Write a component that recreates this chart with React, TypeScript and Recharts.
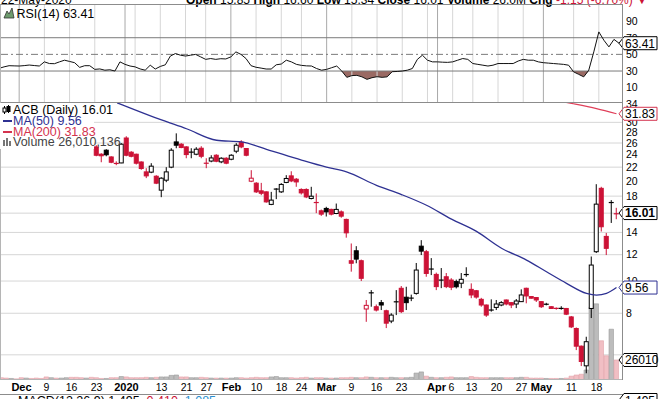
import React from "react";
import { ComposedChart, Bar, Line, Area, XAxis, YAxis, ReferenceLine, Cell } from "recharts";

// ACB daily, 25 Nov 2019 – 22 May 2020
const dates = [
  "Nov 25", "Nov 26", "Nov 27", "Nov 29", "Dec 2", "Dec 3", "Dec 4", "Dec 5", "Dec 6", "Dec 9",
  "Dec 10", "Dec 11", "Dec 12", "Dec 13", "Dec 16", "Dec 17", "Dec 18", "Dec 19", "Dec 20", "Dec 23",
  "Dec 24", "Dec 26", "Dec 27", "Dec 30", "Dec 31", "Jan 2", "Jan 3", "Jan 6", "Jan 7", "Jan 8",
  "Jan 9", "Jan 10", "Jan 13", "Jan 14", "Jan 15", "Jan 16", "Jan 17", "Jan 21", "Jan 22", "Jan 23",
  "Jan 24", "Jan 27", "Jan 28", "Jan 29", "Jan 30", "Jan 31", "Feb 3", "Feb 4", "Feb 5", "Feb 6",
  "Feb 7", "Feb 10", "Feb 11", "Feb 12", "Feb 13", "Feb 14", "Feb 18", "Feb 19", "Feb 20", "Feb 21",
  "Feb 24", "Feb 25", "Feb 26", "Feb 27", "Feb 28", "Mar 2", "Mar 3", "Mar 4", "Mar 5", "Mar 6",
  "Mar 9", "Mar 10", "Mar 11", "Mar 12", "Mar 13", "Mar 16", "Mar 17", "Mar 18", "Mar 19", "Mar 20",
  "Mar 23", "Mar 24", "Mar 25", "Mar 26", "Mar 27", "Mar 30", "Mar 31", "Apr 1", "Apr 2", "Apr 3",
  "Apr 6", "Apr 7", "Apr 8", "Apr 9", "Apr 13", "Apr 14", "Apr 15", "Apr 16", "Apr 17", "Apr 20",
  "Apr 21", "Apr 22", "Apr 23", "Apr 24", "Apr 27", "Apr 28", "Apr 29", "Apr 30", "May 1", "May 4",
  "May 5", "May 6", "May 7", "May 8", "May 11", "May 12", "May 13", "May 14", "May 15", "May 18",
  "May 19", "May 20", "May 21", "May 22",
];

const opens = [
  31.0, 30.3, 30.0, 30.2, 29.7, 28.9, 29.6, 29.6, 29.4, 29.0, 28.5, 29.9, 29.3, 30.3, 30.6, 29.2, 28.2, 27.6, 27.8,
  25.31, 24.06, 24.74, 23.61, 22.46, 22.65, 26.92, 24.4, 24.06, 22.8, 21.29, 21.25, 20.66, 18.76, 20.1,
  22.0, 26.2, 25.79, 25.31, 24.48, 24.06, 25.08, 22.68, 22.95, 23.89, 22.82, 23.4, 23.24, 24.57, 26.16,
  25.03, 19.96, 19.69, 18.67, 18.54, 17.0, 18.95, 18.54, 19.79, 20.71, 20.24, 18.85, 18.85, 17.71, 17.28,
  16.26, 16.53, 16.42, 15.96, 16.14, 15.32, 11.51, 12.33, 11.51, 8.24, 9.2, 8.37, 8.61, 8.14, 7.58,
  8.68, 9.51, 8.94, 8.9, 9.18, 12.73, 12.25, 10.9, 10.47, 10.1, 10.3, 10.07, 9.96, 9.85, 10.44,
  9.44, 9.35, 8.81, 8.47, 8.16, 8.33, 8.47, 8.77, 8.61, 8.53, 8.67, 9.51, 8.98, 8.92, 8.67,
  8.53, 8.37, 8.31, 8.29, 8.27, 7.8, 7.2, 6.37, 5.56, 8.27, 12.25, 19.0, 13.62, 17.28, 15.85,
];
const highs = [
  31.6, 30.8, 30.6, 30.5, 30.2, 30.0, 30.2, 30.0, 29.8, 29.6, 30.4, 30.2, 30.6, 31.2, 30.8, 29.6, 28.9, 28.3, 28.1,
  25.61, 24.23, 24.91, 23.72, 22.9, 25.97, 27.25, 24.57, 24.15, 22.9, 21.84, 22.61, 20.81, 20.52, 22.0,
  25.08, 27.8, 25.97, 25.43, 25.08, 25.26, 25.43, 23.4, 23.89, 24.06, 23.56, 23.56, 24.06, 25.97, 26.51,
  25.1, 21.54, 19.83, 19.73, 18.6, 18.54, 19.02, 19.69, 20.81, 21.38, 20.4, 19.0, 19.0, 19.2, 18.34,
  16.4, 16.72, 16.5, 17.1, 16.3, 15.4, 12.97, 12.73, 11.6, 8.77, 9.39, 8.5, 8.77, 8.2, 8.0,
  9.39, 9.66, 9.61, 9.1, 11.33, 13.27, 12.4, 11.72, 10.6, 10.94, 10.57, 10.2, 10.1, 10.57, 11.0,
  9.84, 9.4, 8.9, 8.5, 8.81, 8.77, 8.7, 8.8, 8.65, 8.83, 9.44, 9.55, 9.0, 8.95, 8.7,
  8.6, 8.4, 8.33, 8.4, 8.3, 7.85, 7.25, 6.4, 6.8, 11.85, 19.55, 19.2, 13.95, 17.51, 16.6,
];
const lows = [
  29.8, 29.5, 29.6, 29.6, 28.7, 28.6, 29.2, 29.0, 28.8, 28.2, 28.4, 28.9, 29.0, 29.9, 29.0, 27.6, 27.2, 26.8, 26.4,
  23.72, 22.76, 23.72, 22.61, 22.3, 22.61, 23.72, 23.55, 22.4, 21.6, 20.39, 21.1, 19.56, 17.87, 19.83,
  21.84, 25.08, 25.08, 23.4, 23.4, 23.89, 23.4, 21.84, 22.76, 22.76, 22.61, 22.45, 23.08, 24.23, 25.08,
  23.72, 19.83, 18.4, 18.12, 17.2, 16.91, 17.63, 18.4, 19.69, 19.83, 19.2, 18.2, 17.75, 17.6, 16.0,
  15.7, 15.63, 15.75, 15.89, 15.5, 13.5, 10.67, 11.31, 10.0, 7.54, 8.37, 8.1, 8.18, 7.22, 7.47,
  7.9, 8.01, 8.18, 8.7, 9.1, 11.97, 10.3, 10.42, 9.39, 9.52, 9.52, 9.39, 9.5, 9.52, 10.3,
  8.88, 8.85, 8.37, 7.8, 8.09, 8.18, 8.4, 8.45, 8.29, 8.29, 8.65, 8.57, 8.85, 8.65, 8.3,
  8.45, 8.25, 8.2, 8.2, 7.9, 7.22, 6.2, 5.55, 5.28, 7.74, 12.14, 14.09, 11.97, 14.95, 15.34,
];
const closes = [
  30.2, 29.9, 30.3, 29.8, 29.0, 29.6, 29.5, 29.3, 29.0, 28.4, 30.0, 29.2, 30.2, 30.8, 29.3, 28.1, 27.5, 27.9, 26.7,
  23.89, 23.8, 23.97, 22.76, 22.68, 25.79, 23.89, 23.72, 22.61, 21.79, 20.71, 22.15, 19.69, 20.38, 21.29,
  24.74, 25.61, 25.2, 24.0, 24.34, 24.91, 23.72, 22.53, 23.45, 22.92, 23.4, 22.61, 23.89, 25.61, 25.31,
  23.89, 20.38, 18.54, 18.36, 17.3, 17.51, 18.85, 19.52, 20.34, 20.0, 19.86, 18.41, 17.9, 17.99, 17.16,
  15.89, 16.14, 15.89, 16.42, 15.67, 13.96, 11.31, 11.64, 10.19, 8.45, 9.23, 8.18, 8.47, 7.47, 7.9,
  8.64, 8.09, 8.61, 8.87, 10.79, 12.3, 10.54, 10.83, 9.62, 10.03, 9.62, 9.58, 9.61, 10.12, 10.48,
  9.08, 8.95, 8.47, 7.9, 8.2, 8.53, 8.61, 8.53, 8.47, 8.71, 9.08, 9.02, 8.88, 8.77, 8.37,
  8.5, 8.27, 8.24, 8.26, 7.95, 7.28, 6.37, 5.73, 6.57, 11.17, 17.03, 14.56, 12.54, 17.16, 16.01,
];
// volume in millions of shares
const volumes = [
  3, 2.5, 2, 1.5, 3, 2.5, 2, 2.5, 2, 4, 3, 2.5, 2.5, 3, 3.5, 3.5, 3, 2.5, 3.5,
  3, 2, 2, 3, 3, 4.5, 4, 3, 3, 3, 3.5, 3, 3.5,
  4, 4, 6, 6.5, 4, 4, 3, 3, 3.5, 3, 2.5, 2.5, 2.5, 2.5,
  2.5, 3, 3, 2.5, 3, 3.5, 3, 3, 4, 4.5, 3, 3, 3, 2.5, 3, 3.5, 2.5, 3, 3,
  2.5, 2.5, 2.5, 3, 3, 3.5, 3, 3, 4, 3.5, 3, 3, 3, 3.5, 3, 3, 3, 3.5, 9, 10.5,
  5, 3.5, 3, 3, 3.5, 4, 3, 3, 3, 4.5, 3.5, 3, 3, 3, 3, 3, 3, 3, 3,
  3.5, 3.5, 2.5, 2.5, 2.5, 2, 2, 2, 2, 2.5, 5, 6.5, 7.5, 13,
  95, 99, 51, 31.5, 66, 26.01,
];
const rsi = [
  33.2, 35, 36.4, 36.2, 36, 36.5, 37.2, 36.6, 36, 41, 39, 38.8, 41, 43, 41.5, 40, 34.4, 36.4, 36.4,
  32, 32.5, 31, 31.5, 30, 41, 38, 36, 35, 32.5, 31, 37, 32.4,
  35.5, 37.5, 48, 51, 49, 48, 49, 50, 47, 44, 45, 44, 44.8, 44.5,
  47, 53, 50, 45, 36.4, 34.5, 33.5, 32.4, 32.4, 37.5, 38.4, 43, 41, 38, 36.8, 36.2, 36, 33, 31,
  32, 34, 36, 30, 22.4, 24.5, 24.8, 23, 20, 22, 23.2, 22.4, 23, 29.2, 29.5, 30, 31, 33, 44, 49,
  43, 41, 41, 40.6, 40.4, 41, 43, 45, 44, 39, 38, 37, 36, 37, 39, 39, 39, 39, 42,
  44, 43, 43, 41, 40, 39.5, 39, 38.5, 38, 37, 29, 26, 23, 31,
  53, 77, 67, 59, 68, 63.41,
];

const ma50Dates = ["Dec 23", "Dec 30", "Jan 13", "Jan 21", "Jan 29", "Feb 5", "Feb 12", "Feb 24", "Mar 2", "Mar 6", "Mar 16", "Mar 23", "Mar 30", "Apr 6", "Apr 14", "Apr 21", "Apr 28", "May 4", "May 8", "May 14", "May 18", "May 20", "May 22"];
const ma50Values = [36.3, 34.4, 30.5, 28.7, 26.5, 26.2, 24.9, 23.1, 22.0, 21.3, 19.4, 18.2, 16.9, 15.35, 14.1, 12.55, 11.56, 10.66, 9.84, 9.18, 9.07, 9.18, 9.56];
const ma200Dates = ["Apr 27", "May 5", "May 11", "May 18", "May 22"];
const ma200Values = [36.6, 35.1, 34.2, 33.0, 31.83];

const weekLines = ["Dec 9", "Dec 16", "Dec 23", "Jan 6", "Jan 13", "Jan 21", "Jan 27", "Feb 10", "Feb 18", "Feb 24", "Mar 9", "Mar 16", "Mar 23", "Mar 30", "Apr 6", "Apr 13", "Apr 20", "Apr 27", "May 11", "May 18"];
const monthLines = ["Dec 2", "Jan 2", "Feb 3", "Mar 2", "Apr 1", "May 1"];
const labelDates = ["Dec 2", "Dec 9", "Dec 16", "Dec 23", "Jan 2", "Jan 13", "Jan 21", "Jan 27", "Feb 3", "Feb 10", "Feb 18", "Feb 24", "Mar 2", "Mar 9", "Mar 16", "Mar 23", "Apr 1", "Apr 6", "Apr 13", "Apr 20", "Apr 27", "May 1", "May 11", "May 18"];
const labelTexts = ["Dec", "9", "16", "23", "2020", "13", "21", "27", "Feb", "10", "18", "24", "Mar", "9", "16", "23", "Apr", "6", "13", "20", "27", "May", "11", "18"];

const priceTicks = [8, 10, 12, 14, 18, 20, 22, 24, 26, 28, 30, 34];
const priceGrid = [6, 8, 10, 12, 14, 16, 18, 22, 26, 30];
const rsiTicks = [10, 30, 50, 70, 90];
const priceTags = [
  { value: 9.56, text: "9.56", color: "#2e3192" },
  { value: 31.83, text: "31.83", color: "#d4334f" },
  { value: 16.01, text: "16.01", color: "#000", bold: true },
];
const rsiTags = [{ value: 63.41, text: "63.41", color: "#000" }];
const volTags = [{ value: 26.01, text: "26010", color: "#000" }];

const FONT = "'Liberation Sans', Arial, sans-serif";
const RED = "#cc1236";
const W = 663;

const rows = dates.map((d, i) => ({
  d,
  o: opens[i],
  h: highs[i],
  l: lows[i],
  c: closes[i],
  range: [lows[i], highs[i]],
  vol: volumes[i],
  up: closes[i] >= (i > 0 ? closes[i - 1] : opens[i]),
  rsi: rsi[i],
  rsiLow: rsi[i] < 30 ? [rsi[i], 30] : [30, 30],
  ma50: ma50Dates.includes(d) ? ma50Values[ma50Dates.indexOf(d)] : null,
  ma200: ma200Dates.includes(d) ? ma200Values[ma200Dates.indexOf(d)] : null,
}));

function Candle(props: any) {
  const { x, y, width, height, payload } = props;
  if (!payload || !isFinite(y) || !isFinite(height)) return null;
  const { o, h, l, c, up } = payload;
  const lh = Math.log(h);
  const span = lh - Math.log(l);
  const py = (p: number) => y + ((lh - Math.log(p)) / span) * height;
  const color = up ? "#000" : RED;
  const cx = x + width / 2;
  const top = py(Math.max(o, c));
  const bh = py(Math.min(o, c)) - top;
  return (
    <g>
      <line x1={cx} x2={cx} y1={y} y2={y + height} stroke={color} strokeWidth={1} />
      {bh < 1.5 ? (
        <line x1={cx - 2.5} x2={cx + 2.5} y1={top + bh / 2} y2={top + bh / 2} stroke={color} strokeWidth={1.2} />
      ) : (
        <rect x={cx - 2} y={top} width={4} height={bh} fill={c > o ? "#fff" : color} stroke={color} strokeWidth={1} />
      )}
    </g>
  );
}

function makeTick(tags: any[], size = 10.5) {
  return function AxisTick(props: any) {
    const { x, y, payload } = props;
    const tag = tags.find((t) => t.value === payload.value);
    if (tag) {
      const pts = `${x - 4},${y} ${x + 1},${y - 6.5} ${x + 34},${y - 6.5} ${x + 34},${y + 6.5} ${x + 1},${y + 6.5}`;
      return (
        <g>
          <polygon points={pts} fill="#fff" stroke={tag.color} strokeWidth={1} />
          <text x={x + 2} y={y + 4.3} fontSize={12} fontFamily={FONT} fontWeight={tag.bold ? "bold" : "normal"} fill="#000">
            {tag.text}
          </text>
        </g>
      );
    }
    return (
      <text x={x + 3} y={y + 3.8} fontSize={size} fontFamily={FONT} fill="#000">
        {payload.value}
      </text>
    );
  };
}

function DateTick(props: any) {
  const { x, y, payload } = props;
  const k = labelDates.indexOf(payload.value);
  if (k < 0) return null;
  const bold = monthLines.includes(payload.value);
  return (
    <text x={x} y={y + 10.5} textAnchor="middle" fontSize={bold ? 11 : 10.5} fontWeight={bold ? "bold" : "normal"} fontFamily={FONT} fill="#000">
      {labelTexts[k]}
    </text>
  );
}

const layer: React.CSSProperties = { position: "absolute", left: -1, top: 0 };

function gridLines() {
  return [
    ...weekLines.map((d) => <ReferenceLine key={"w" + d} x={d} stroke="#d6d6d6" strokeWidth={1} />),
    ...monthLines.map((d) => <ReferenceLine key={"m" + d} x={d} stroke="#a9a9a9" strokeWidth={1} />),
  ];
}

export default function App() {
  return (
    <div style={{ position: "relative", width: 662, height: 399, overflow: "hidden", background: "#fff", fontFamily: FONT }}>
      <style>{"body{margin:0}"}</style>

      {/* RSI panel */}
      <div style={layer}>
        <ComposedChart width={W} height={103} data={rows} margin={{ top: 5, right: 0, bottom: 0, left: 0 }}>
          <XAxis dataKey="d" hide padding={{ left: 0, right: 4 }} />
          <YAxis
            orientation="right"
            width={39}
            domain={[-8.4, 109.3]}
            allowDataOverflow
            ticks={[...rsiTicks, 63.41]}
            interval={0}
            axisLine={false}
            tickLine={false}
            tickSize={0}
            tickMargin={0}
            tick={makeTick(rsiTags)}
          />
          {gridLines()}
          <ReferenceLine y={70} stroke="#7a7a7a" strokeWidth={1} />
          <ReferenceLine y={30} stroke="#7a7a7a" strokeWidth={1} />
          <ReferenceLine y={50} stroke="#7a7a7a" strokeWidth={1} strokeDasharray="7 3 2 3" />
          <Area dataKey="rsiLow" type="linear" fill="#9a6a64" fillOpacity={1} stroke="none" isAnimationActive={false} />
          <Line dataKey="rsi" type="linear" stroke="#111" strokeWidth={1} dot={false} isAnimationActive={false} />
        </ComposedChart>
      </div>

      {/* price panel grid */}
      <div style={layer}>
        <ComposedChart width={W} height={399} data={rows} margin={{ top: 103, right: 39, bottom: 19, left: 0 }}>
          <XAxis dataKey="d" hide padding={{ left: 0, right: 4 }} />
          <YAxis yAxisId="p" hide scale="log" domain={[5.04, 34.3]} allowDataOverflow type="number" />
          {gridLines()}
          {priceGrid.map((v) => (
            <ReferenceLine key={"g" + v} yAxisId="p" y={v} stroke="#d6d6d6" strokeWidth={1} />
          ))}
        </ComposedChart>
      </div>

      {/* volume */}
      <div style={layer}>
        <ComposedChart width={W} height={399} data={rows} margin={{ top: 103, right: 0, bottom: 19, left: 0 }}>
          <XAxis dataKey="d" hide padding={{ left: 0, right: 4 }} />
          <YAxis
            yAxisId="v"
            orientation="right"
            width={39}
            domain={[0, 360]}
            allowDataOverflow
            ticks={[26.01]}
            interval={0}
            axisLine={false}
            tickLine={false}
            tickSize={0}
            tickMargin={0}
            tick={makeTick(volTags)}
          />
          <Bar yAxisId="v" dataKey="vol" barSize={5} isAnimationActive={false}>
            {rows.map((r) => (
              <Cell key={r.d} fill={r.up ? "#bcbcbc" : "#f1bfc4"} stroke={r.up ? "#9a9a9a" : "#e3a2aa"} strokeWidth={0.6} />
            ))}
          </Bar>
        </ComposedChart>
      </div>

      {/* price */}
      <div style={layer}>
        <ComposedChart width={W} height={399} data={rows} margin={{ top: 103, right: 0, bottom: 0, left: 0 }}>
          <XAxis
            dataKey="d"
            height={19}
            padding={{ left: 0, right: 4 }}
            ticks={labelDates}
            interval={0}
            axisLine={false}
            tickLine={false}
            tickSize={0}
            tickMargin={0}
            tick={<DateTick />}
          />
          <YAxis
            yAxisId="p"
            orientation="right"
            width={39}
            scale="log"
            type="number"
            domain={[5.04, 34.3]}
            allowDataOverflow
            ticks={[...priceTicks, ...priceTags.map((t) => t.value)]}
            interval={0}
            axisLine={false}
            tickLine={false}
            tickSize={0}
            tickMargin={0}
            tick={makeTick(priceTags)}
          />
          <Line yAxisId="p" dataKey="ma200" type="monotone" connectNulls stroke="#e0405a" strokeWidth={1.2} dot={false} isAnimationActive={false} />
          <Line yAxisId="p" dataKey="ma50" type="monotone" connectNulls stroke="#2e3192" strokeWidth={1.3} dot={false} isAnimationActive={false} />
          <Bar yAxisId="p" dataKey="range" barSize={5} shape={<Candle />} isAnimationActive={false} />
        </ComposedChart>
      </div>

      {/* frame, header and legends */}
      <svg width={662} height={399} style={{ position: "absolute", left: 0, top: 0 }}>
        <text x={1} y={3.5} fontSize={12} fontFamily={FONT} fill="#000">22-May-2020</text>
        <text x={186} y={3.5} fontSize={12} fontFamily={FONT} fill="#000">
          <tspan fontWeight="bold">Open</tspan> 15.85 <tspan fontWeight="bold">High</tspan> 16.60{" "}
          <tspan fontWeight="bold">Low</tspan> 15.34 <tspan fontWeight="bold">Close</tspan> 16.01{" "}
          <tspan fontWeight="bold">Volume</tspan> 26.0M <tspan fontWeight="bold">Chg</tspan>{" "}
          <tspan fill={RED}>-1.15 (-6.70%) ▼</tspan>
        </text>

        <line x1={0} x2={623} y1={4.5} y2={4.5} stroke="#8c8c8c" />
        <line x1={0} x2={623} y1={102.5} y2={102.5} stroke="#8c8c8c" />
        <line x1={0} x2={623} y1={379.5} y2={379.5} stroke="#b5b5b5" />
        <line x1={622.5} x2={622.5} y1={4.5} y2={380} stroke="#8c8c8c" />
        <line x1={0.5} x2={0.5} y1={4.5} y2={380} stroke="#b5b5b5" />

        {/* RSI legend */}
        <polygon points="4,18 7,11 9,14 12,8 14,18" fill="#6d9b6d" stroke="#333" strokeWidth={0.8} />
        <text x={16.5} y={17.5} fontSize={12.5} fontFamily={FONT} fill="#000">RSI(14) 63.41</text>

        {/* price legend */}
        <rect x={0} y={103} width={117} height={12} fill="#fff" />
        <rect x={0} y={115} width={94} height={34} fill="#fff" />
        <g stroke="#000" strokeWidth={1}>
          <line x1={4.5} x2={4.5} y1={106} y2={114} />
          <rect x={3} y={108} width={3} height={4} fill="#fff" />
          <line x1={8.5} x2={8.5} y1={105} y2={113} />
          <rect x={7} y={106.5} width={3} height={5} fill="#000" />
        </g>
        <text x={13} y={114} fontSize={12.5} fontFamily={FONT} fill="#000">ACB (Daily) 16.01</text>
        <line x1={3} x2={12} y1={121} y2={121} stroke="#2e3192" strokeWidth={2} />
        <text x={13} y={125} fontSize={12.5} fontFamily={FONT} fill="#2e3192">MA(50) 9.56</text>
        <line x1={3} x2={12} y1={132} y2={132} stroke="#d4334f" strokeWidth={2} />
        <text x={13} y={136} fontSize={12.5} fontFamily={FONT} fill="#d4334f">MA(200) 31.83</text>
        <g fill="#777">
          <rect x={3} y={140} width={2} height={6} />
          <rect x={6} y={138} width={2} height={8} />
          <rect x={9} y={141} width={2} height={5} />
        </g>
        <text x={13} y={146} fontSize={12.5} fontFamily={FONT} fill="#444">Volume 26,010,136</text>

        {/* MACD panel (cut off) */}
        <line x1={0} x2={623} y1={394.5} y2={394.5} stroke="#8c8c8c" />
        <line x1={8} x2={16} y1={400} y2={400} stroke="#000" strokeWidth={2} />
        <text x={18} y={405} fontSize={12.5} fontFamily={FONT} fill="#000">
          MACD(12,26,9) 1.495, <tspan fill={RED}>0.410</tspan>, <tspan fill="#2a8fd0">1.085</tspan>
        </text>
        <polygon points="619,400 624,393.5 657,393.5 657,406.5 624,406.5" fill="#fff" stroke="#000" />
        <text x={625} y={404.5} fontSize={12} fontFamily={FONT} fill="#000">1.495</text>
      </svg>
    </div>
  );
}
